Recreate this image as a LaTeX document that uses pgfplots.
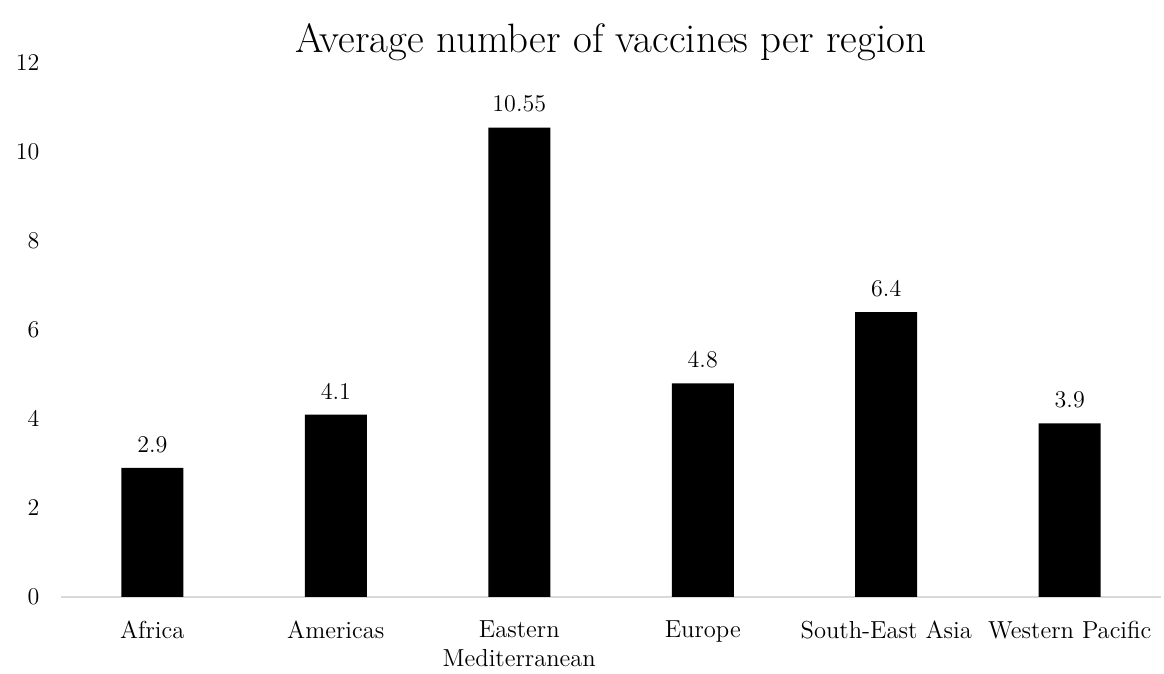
\documentclass[border=0pt]{standalone}
\usepackage{pgfplots}
\pgfplotsset{compat=1.18}
\definecolor{axgray}{HTML}{D9D9D9}
\begin{document}
\begin{tikzpicture}
\begin{axis}[
  scale only axis,
  width=550.5pt, height=267pt,
  xmin=-0.5, xmax=5.5, ymin=0, ymax=12,
  ytick={0,2,4,6,8,10,12},
  xtick=data,
  xticklabels={Africa,Americas,{Eastern\\Mediterranean},Europe,South-East Asia,Western Pacific},
  xticklabel style={align=center, font=\fontsize{12.3}{14.5}\selectfont, yshift=-8.5pt},
  yticklabel style={font=\fontsize{12}{14}\selectfont, xshift=-7pt},
  major tick length=0pt,
  axis y line*=left,
  y axis line style={draw=none},
  axis x line*=bottom,
  x axis line style={axgray, line width=1pt, -},
  ybar, bar width=31pt,
  clip=false,
  title={Average number of vaccines per region},
  title style={font=\fontsize{20.5}{24}\selectfont, at={(0.5,1.017)}, anchor=center},
  nodes near coords,
  nodes near coords style={font=\fontsize{12}{14}\selectfont, black, yshift=4pt},
  point meta=explicit symbolic,
]
\addplot[fill=black, draw=none] coordinates {
 (0,2.9) [2.9]
 (1,4.1) [4.1]
 (2,10.55) [10.55]
 (3,4.8) [4.8]
 (4,6.4) [6.4]
 (5,3.9) [3.9]
};
\path (rel axis cs:-0.055,-0.12) (rel axis cs:1.0023,1.118);
\end{axis}
\end{tikzpicture}
\end{document}
